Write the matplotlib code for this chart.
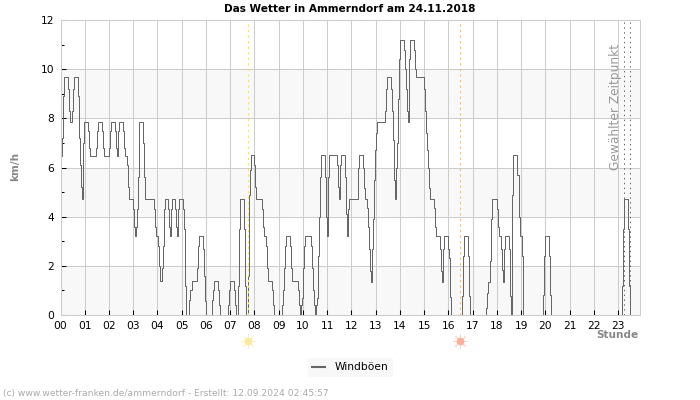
import matplotlib
matplotlib.use("Agg")
import matplotlib.pyplot as plt

title = "Das Wetter in Ammerndorf am 24.11.2018"
footer = "(c) www.wetter-franken.de/ammerndorf - Erstellt: 12.09.2024 02:45:57"
hour_labels = [f"{h:02d}" for h in range(24)]
y_major = [0, 2, 4, 6, 8, 10, 12]
y_minor = [1, 3, 5, 7, 9, 11]
bands = [(0, 2), (4, 6), (8, 10)]
sunrise = 7.744
sunset = 16.487
selected = [23.25, 23.5]

t = [0.03,0.076,0.117,0.159,0.324,0.365,0.406,0.489,0.53,0.571,0.736,0.777,0.818,0.86,0.90,0.915,0.942,0.983,
     1.148,1.19,1.23,1.465,1.52,1.56,1.726,1.767,1.81,2.014,2.056,2.097,2.262,2.30,2.344,2.386,2.427,2.592,2.633,2.674,
     2.757,2.798,2.84,3.004,3.045,3.087,3.128,3.17,3.21,3.23,3.25,3.416,3.458,3.50,3.856,3.90,3.94,4.02,4.06,
     4.09,4.17,4.21,4.25,4.28,4.32,4.42,4.46,4.50,4.54,4.58,4.735,4.78,4.82,4.86,4.90,5.065,5.09,5.134,5.175,
     5.31,5.354,5.41,5.643,5.684,5.725,5.89,5.93,5.97,6.014,6.26,6.30,6.344,6.51,6.55,6.59,6.92,6.96,7.0,7.17,7.21,7.25,
     7.33,7.375,7.416,7.58,7.62,7.66,7.72,7.76,7.80,7.84,8.0,8.035,8.08,
     8.32,8.36,8.405,8.49,8.53,8.57,8.735,8.776,8.82,9.147,9.19,9.23,9.27,9.31,9.477,9.52,9.56,9.807,9.85,9.89,
     9.93,9.97,10.01,10.054,10.096,10.343,10.384,10.426,10.467,10.51,10.55,10.59,10.63,10.67,10.714,10.755,10.92,10.96,
     11.0,11.016,11.085,11.415,11.456,11.5,11.51,11.58,11.745,11.786,11.83,11.87,11.91,
     12.254,12.28,12.32,12.488,12.53,12.57,12.65,12.694,12.735,12.776,12.82,12.86,12.9,12.94,12.98,13.024,13.065,
     13.395,13.436,13.477,13.64,13.684,13.725,13.766,13.807,13.85,13.89,13.93,13.97,14.01,14.18,14.22,14.26,14.3,14.343,
     14.36,14.385,14.426,14.59,14.63,14.67,15.0,15.044,15.085,15.127,15.168,15.21,15.25,15.415,15.457,15.5,15.663,15.704,
     15.745,15.79,15.83,15.99,16.03,16.06,16.09,16.57,16.61,16.653,16.82,16.86,16.9,
     17.56,17.6,17.64,17.725,17.766,17.807,18.013,18.055,18.096,18.18,18.22,18.26,18.3,18.34,18.51,18.55,18.59,18.62,18.63,
     18.674,18.84,18.894,18.935,19.018,19.06,19.087,19.91,19.95,19.993,20.158,20.2,20.24,
     23.17,23.21,23.25,23.416,23.457,23.5]
gust = [6.48,7.2,8.9,9.67,9.2,8.3,7.87,8.3,9.2,9.67,8.9,7.2,6.1,5.2,4.7,5.6,7.0,7.87,
        7.5,6.8,6.48,6.8,7.5,7.87,7.5,6.8,6.48,6.8,7.5,7.87,7.5,6.8,6.48,7.5,7.87,7.5,6.8,6.48,
        6.1,5.2,4.7,4.3,3.6,3.2,3.6,4.3,5.6,7.0,7.87,7.0,5.6,4.7,4.3,3.6,3.2,2.8,2.0,
        1.4,1.9,2.8,3.6,4.3,4.7,4.3,3.6,3.2,4.3,4.7,4.3,3.6,3.2,4.3,4.7,4.3,3.5,1.2,0,
        0.6,1.0,1.4,1.9,2.8,3.2,2.7,1.6,0.55,0,0.6,1.0,1.4,1.0,0.4,0,0.4,1.0,1.4,1.0,0.4,0,
        1.2,3.5,4.7,3.5,1.2,0,1.6,4.9,5.9,6.5,6.1,5.2,4.7,
        4.3,3.6,3.2,2.8,1.9,1.4,1.0,0.4,0,0.4,1.0,1.9,2.8,3.2,2.8,1.9,1.4,1.0,0.4,0,
        0.4,0.7,1.9,2.8,3.2,2.8,1.9,1.0,0.4,0,0.4,0.7,2.4,4.0,5.6,6.5,5.6,4.0,
        3.2,5.6,6.5,6.1,5.2,4.7,6.1,6.5,5.6,4.1,3.2,4.3,4.7,
        5.15,6.0,6.5,6.0,5.15,4.7,4.34,3.6,2.7,1.8,1.35,2.7,3.9,5.5,6.7,7.4,7.87,
        8.3,9.2,9.67,9.2,8.3,7.1,5.5,4.7,6.0,7.0,8.8,10.4,11.18,10.8,10.0,9.2,8.3,7.87,
        8.8,10.4,11.18,10.8,10.0,9.67,9.2,8.3,7.4,6.7,6.0,5.15,4.7,4.34,3.6,3.2,2.7,1.8,
        1.35,2.7,3.2,2.7,2.3,0.74,0,0.77,2.4,3.2,2.4,0.77,0,
        0.3,0.9,1.36,2.2,3.9,4.7,4.3,3.6,3.2,2.7,1.83,1.36,2.7,3.2,2.7,0.77,0,1.6,4.9,
        6.5,5.7,4.0,3.2,2.4,0.8,0,0.8,2.4,3.2,2.4,0.8,0,
        1.2,3.5,4.7,3.5,1.2,0]

fig = plt.figure(figsize=(7, 4), dpi=100, facecolor="white")
ax = fig.add_axes([60.5/700, 85/400, 579.8/700, 295/400])
ax.set_xlim(0, 23.91)
ax.set_ylim(0, 12)
ax.set_axisbelow(True)

for lo, hi in bands:
    ax.axhspan(lo, hi, facecolor="#f8f8f8", edgecolor="none", zorder=0)

ax.set_xticks(range(24))
ax.set_xticklabels(hour_labels)
ax.set_yticks(y_major)
ax.set_yticks(y_minor, minor=True)
ax.grid(True, which="major", color="#cccccc", lw=0.75, zorder=1)
ax.tick_params(axis="both", which="major", direction="in", length=3.8, width=0.75, color="black",
               labelsize=7.7, pad=4)
ax.tick_params(axis="y", which="minor", direction="in", length=2.2, width=0.75, color="black")
ax.tick_params(axis="y", which="major", pad=4.5)
for s in ax.spines.values():
    s.set_color("#cccccc")
    s.set_linewidth(0.75)
    s.set_zorder(5)

line, = ax.plot(t, gust, drawstyle="steps-post", color="#666666", lw=0.72, zorder=3, label="Windböen")

ax.axvline(sunrise, color="#f5ea3c", lw=0.8, ls=(0, (2, 3)), zorder=4)
ax.axvline(sunset, color="#fbbf55", lw=0.8, ls=(0, (2, 3)), zorder=4)
for x in selected:
    ax.axvline(x, color="#666666", lw=0.7, ls=(0, (1.5, 3.5)), zorder=4)

ax.text(23.17, 11.02, "Gewählter Zeitpunkt", rotation=90, fontsize=8.8, color="#999999",
        ha="right", va="top", zorder=4, clip_on=False)

tr = ax.get_xaxis_transform()
for x, c, r in [(sunrise, "#fbe89a", "#fdf2c4"), (sunset, "#fbb09a", "#fdd2c4")]:
    ax.plot([x], [-0.088], marker=(8, 2, 0), ms=10, mew=0.7, color=r, transform=tr, clip_on=False, ls="none")
    ax.plot([x], [-0.088], marker="o", ms=5.5, mew=0, color=c, transform=tr, clip_on=False, ls="none")

fig.text(350/700, 1 - 9/400, title, fontsize=7.6, fontweight="bold", ha="center", va="center", color="black")
fig.text(15/700, 1 - 166/400, "km/h", fontsize=7.6, fontweight="bold", rotation=90, ha="center", va="center", color="#888888")
fig.text(638.5/700, 1 - 334.5/400, "Stunde", fontsize=7.6, fontweight="bold", ha="right", va="center", color="#888888")
fig.text(3/700, 1 - 393.5/400, footer, fontsize=6.55, ha="left", va="center", color="#aaaaaa")

leg = fig.legend(handles=[line], loc="center", bbox_to_anchor=(350.5/700, 1 - 367.5/400),
                 fontsize=7.7, frameon=True, facecolor="#f8f8f8", edgecolor="none", fancybox=False,
                 framealpha=1, handlelength=1.2, handletextpad=0.9, borderpad=0.4)
leg.get_lines()[0].set_linewidth(1.5)
leg.get_lines()[0].set_drawstyle("default")

fig.savefig("out.png", dpi=100, facecolor="white")
